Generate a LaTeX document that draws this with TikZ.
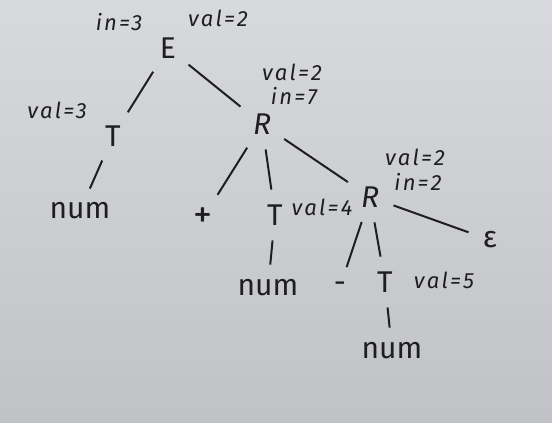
\documentclass[tikz,border=0pt]{standalone}
\usepackage{fontspec}
\setmainfont{Fira Sans}
\newfontfamily\handfont[LetterSpace=10]{Fira Sans}
\definecolor{papertop}{RGB}{216,217,220}
\definecolor{paperbot}{RGB}{192,194,198}
\definecolor{ink}{RGB}{30,30,32}

\begin{document}
\begin{tikzpicture}[x=1pt,y=-1pt,
  sym/.style={font=\fontsize{30}{32}\selectfont, text=ink, inner sep=3pt},
  attr/.style={font=\handfont\fontsize{22}{24}\selectfont\itshape, text=ink, inner sep=1pt},
  branch/.style={draw=ink, line width=2pt, shorten >=12pt, shorten <=12pt}]

\shade[top color=papertop, bottom color=paperbot] (0,0) rectangle (552,423);

% top level
\node[sym] (E) at (168,48) {E};
\node[attr] (Ein) at (119,22) {in=3};
\node[attr] (Eval) at (218,18) {val=2};

\node[sym] (T1) at (113,136) {T};
\node[attr] (T1val) at (57,110) {val=3};
\node[sym] (num1) at (80,211) {num};

\node[sym] (R1) at (262,124) {\itshape R};
\node[attr] (R1val) at (292,72) {val=2};
\node[attr] (R1in) at (294,96) {in=7};

% second level
\node[sym] (plus) at (203,218) {\fontsize{38}{40}\selectfont +};
\node[sym] (T2) at (275,215) {T};
\node[attr] (T2val) at (322,207) {val=4};
\node[sym] (num2) at (268,288) {num};

\node[sym] (R2) at (370,197) {\itshape R};
\node[attr] (R2val) at (415,157) {val=2};
\node[attr] (R2in) at (418,182) {in=2};
\node[sym] (eps) at (490,240) {ε};

% third level
\node[sym] (minus) at (340,287) {-};
\node[sym] (T3) at (385,282) {T};
\node[attr] (T3val) at (444,280) {val=5};
\node[sym] (num3) at (392,351) {num};

\draw[branch] (E) -- (T1);
\draw[branch] (E) -- (R1);
\draw[branch] (T1) -- (num1);
\draw[branch] (R1) -- (plus);
\draw[branch] (R1) -- (T2);
\draw[branch] (R1) -- (R2);
\draw[branch] (T2) -- (num2);
\draw[branch] (R2) -- (minus);
\draw[branch] (R2) -- (T3);
\draw[branch] (R2) -- (eps);
\draw[branch] (T3) -- (num3);

\end{tikzpicture}
\end{document}
